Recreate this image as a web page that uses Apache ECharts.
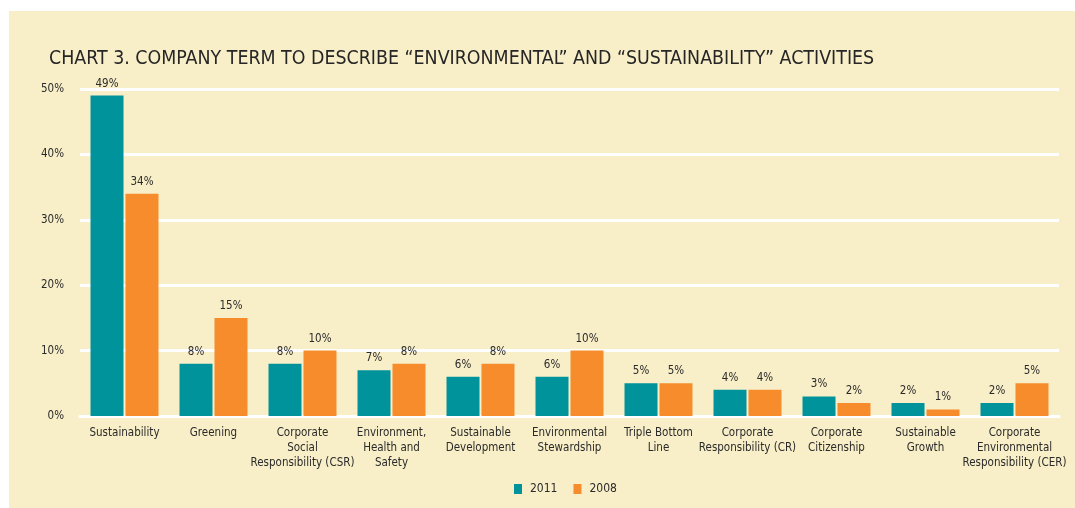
<!DOCTYPE html>
<html>
<head>
<meta charset="utf-8">
<script src="https://cdn.jsdelivr.net/npm/echarts@6/dist/echarts.min.js"></script>
<style>
  html, body { margin: 0; padding: 0; background: #ffffff; }
  #panel { position: absolute; left: 9px; top: 11px; width: 1066px; height: 497px; }
</style>
</head>
<body>
<div id="panel"></div>
<script>
  var categories = ['Sustainability', 'Greening', 'Corporate\nSocial\nResponsibility (CSR)',
    'Environment,\nHealth and\nSafety', 'Sustainable\nDevelopment', 'Environmental\nStewardship',
    'Triple Bottom\nLine', 'Corporate\nResponsibility (CR)', 'Corporate\nCitizenship',
    'Sustainable\nGrowth', 'Corporate\nEnvironmental\nResponsibility (CER)'];
  var values2011 = [49, 8, 8, 7, 6, 6, 5, 4, 3, 2, 2];
  var values2008 = [34, 15, 10, 8, 8, 10, 5, 4, 2, 1, 5];
  var yTicks = [0, 10, 20, 30, 40, 50];

  var font = '"Liberation Sans Narrow", "DejaVu Sans Condensed", "Liberation Sans", sans-serif';
  var textColor = '#2a2a2a';

  var chart = echarts.init(document.getElementById('panel'));
  chart.setOption({
    backgroundColor: '#f8efc8',
    animation: false,
    textStyle: { fontFamily: font },
    title: {
      text: 'CHART 3. COMPANY TERM TO DESCRIBE \u201cENVIRONMENTAL\u201d AND \u201cSUSTAINABILITY\u201d ACTIVITIES',
      left: 35,
      top: 33,
      textStyle: { fontFamily: font, fontSize: 19.4, fontWeight: 'normal', color: '#262626' }
    },
    legend: {
      data: ['2011', '2008'],
      top: 467,
      left: 500,
      icon: 'rect',
      itemWidth: 8,
      itemHeight: 10,
      itemGap: 16,
      textStyle: { fontFamily: font, fontSize: 12, color: textColor, padding: [0, 0, 0, 3] }
    },
    grid: { left: 71, right: 16, top: 78, bottom: 92 },
    xAxis: {
      type: 'category',
      data: categories,
      axisLine: { lineStyle: { color: '#ffffff', width: 3 } },
      axisTick: { show: false },
      axisLabel: {
        interval: 0,
        margin: 10,
        fontFamily: font,
        fontSize: 11.5,
        lineHeight: 15,
        color: textColor
      }
    },
    yAxis: {
      type: 'value',
      min: yTicks[0],
      max: yTicks[yTicks.length - 1],
      interval: 10,
      axisLine: { show: false },
      axisTick: { show: false },
      splitLine: { lineStyle: { color: '#ffffff', width: 3 } },
      axisLabel: {
        margin: 16,
        fontFamily: font,
        fontSize: 11.5,
        color: textColor,
        formatter: '{value}%'
      }
    },
    series: [
      {
        name: '2011',
        type: 'bar',
        data: values2011,
        barWidth: 33,
        barGap: '6%',
        itemStyle: { color: '#00939c' },
        label: { show: true, position: 'top', distance: 6, formatter: '{c}%',
          fontFamily: font, fontSize: 11.5, color: textColor }
      },
      {
        name: '2008',
        type: 'bar',
        data: values2008,
        barWidth: 33,
        itemStyle: { color: '#f68c2c' },
        label: { show: true, position: 'top', distance: 6, formatter: '{c}%',
          fontFamily: font, fontSize: 11.5, color: textColor }
      }
    ]
  });
</script>
</body>
</html>
